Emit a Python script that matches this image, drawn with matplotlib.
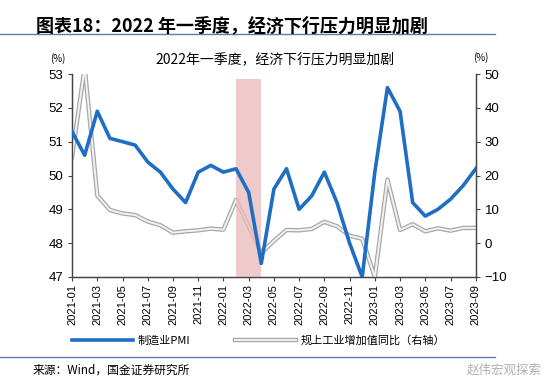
import matplotlib
matplotlib.use("Agg")
import matplotlib.pyplot as plt
import matplotlib.patheffects as pe
import numpy as np

plt.rcParams['font.family'] = ['Noto Sans CJK SC', 'DejaVu Sans']

months = ["2021-01","2021-02","2021-03","2021-04","2021-05","2021-06","2021-07","2021-08","2021-09","2021-10","2021-11","2021-12",
          "2022-01","2022-02","2022-03","2022-04","2022-05","2022-06","2022-07","2022-08","2022-09","2022-10","2022-11","2022-12",
          "2023-01","2023-02","2023-03","2023-04","2023-05","2023-06","2023-07","2023-08","2023-09"]
pmi = [51.3,50.6,51.9,51.1,51.0,50.9,50.4,50.1,49.6,49.2,50.1,50.3,
       50.1,50.2,49.5,47.4,49.6,50.2,49.0,49.4,50.1,49.2,48.0,47.0,
       50.1,52.6,51.9,49.2,48.8,49.0,49.3,49.7,50.2]
iva = [25.5,52.0,14.1,9.8,8.8,8.3,6.4,5.3,3.1,3.5,3.8,4.3,
       4.0,12.8,5.0,-2.9,0.7,3.9,3.8,4.2,6.3,5.0,2.2,1.3,
       -10.0,18.8,3.9,5.6,3.5,4.4,3.7,4.5,4.5]
shade_start, shade_end = "2022-02", "2022-04"

fig = plt.figure(figsize=(5.5, 3.91), dpi=100)
ax = fig.add_axes([0.131, 0.2916, 0.734, 0.519])
ax2 = ax.twinx()

x = np.arange(len(months))
i0, i1 = months.index(shade_start), months.index(shade_end)
ax.fill_between([i0, i1], 47, 52.85, color='#e9b9b9', alpha=0.75, lw=0, zorder=0)

gray_fx = [pe.Stroke(linewidth=3.2, foreground='#a8a8a8'), pe.Normal()]
ax2.plot(x, iva, color='#f2f2f2', lw=1.4, zorder=3, path_effects=gray_fx)
ax.plot(x, pmi, color='#1f6ec4', lw=2.6, zorder=5)
ax.set_zorder(ax2.get_zorder() + 1)
ax.patch.set_visible(False)

ax.set_xlim(0, len(months) - 1)
ax.set_ylim(47, 53)
ax2.set_ylim(-10, 50)
ax.set_yticks(range(47, 54))
ax2.set_yticks(range(-10, 51, 10))
ax.set_xticks(x[::2])
ax.set_xticklabels(months[::2], rotation=90, fontsize=8, family=['Liberation Sans', 'DejaVu Sans'])
ax.tick_params(axis='y', labelsize=9.5, direction='out', length=3, color='#444444')
ax2.tick_params(axis='y', labelsize=9.5, direction='out', length=3, color='#444444')
ax.tick_params(axis='x', direction='out', length=3, color='#444444', pad=2)
for a in (ax, ax2):
    a.spines['top'].set_visible(False)
    for s in ('left', 'right', 'bottom'):
        a.spines[s].set_color('#444444')
        a.spines[s].set_linewidth(0.9)
    for lab in a.get_yticklabels():
        lab.set_family(['Liberation Sans', 'DejaVu Sans'])

fig.text(0.106, 0.842, "(%)", fontsize=7, ha='center')
fig.text(0.875, 0.845, "(%)", fontsize=7, ha='center')
fig.text(0.50, 0.830, "2022年一季度，经济下行压力明显加剧", fontsize=10, ha='center', va='bottom')

# header
fig.text(0.065, 0.935, "图表18：2022 年一季度，经济下行压力明显加剧", fontsize=13, fontweight='bold',
         style='italic', ha='left', va='center')
fig.add_artist(plt.Line2D([0.0, 0.9], [0.913, 0.913], color='#5a7fa8', lw=1.0))
fig.add_artist(plt.Line2D([0.0, 0.9], [0.087, 0.087], color='#5a7fa8', lw=1.0))
fig.text(0.06, 0.053, "来源：Wind，国金证券研究所", fontsize=8.5, ha='left', va='center')
fig.text(0.985, 0.053, "赵伟宏观探索", fontsize=9, ha='right', va='center', color='#b0b0b0')

# legend
from matplotlib.lines import Line2D
h1 = Line2D([], [], color='#1f6ec4', lw=2.6)
h2 = Line2D([], [], color='#f2f2f2', lw=1.4, path_effects=gray_fx)
fig.legend([h1, h2], ["制造业PMI", "规上工业增加值同比（右轴）"], loc='center', bbox_to_anchor=(0.47, 0.13),
           ncol=2, frameon=False, fontsize=8, handlelength=5.5, columnspacing=4, handletextpad=0.4)

fig.savefig("out.png", dpi=100)
